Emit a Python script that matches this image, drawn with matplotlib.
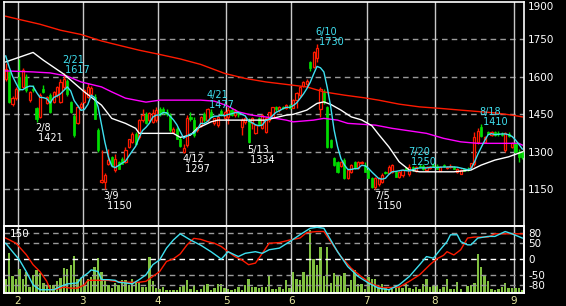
import matplotlib
matplotlib.use('Agg')
import matplotlib.pyplot as plt
import matplotlib.transforms as mtransforms
import numpy as np
import pandas as pd

plt.rcParams['axes.unicode_minus'] = False
plt.rcParams['font.family'] = ['DejaVu Sans']

# trading days, Tokyo 2011 (Jan 26 .. Sep 5)
holidays = ['2011-02-11', '2011-03-21', '2011-04-29', '2011-05-03',
            '2011-05-04', '2011-05-05', '2011-07-18']
dates = pd.bdate_range('2011-01-26', '2011-09-05')
dates = dates[~dates.isin(pd.to_datetime(holidays))]

opens = [1590, 1620, 1492, 1514, 1600, 1560, 1600, 1507, 1553, 1475,
         1440, 1553, 1494, 1527, 1500, 1527, 1500, 1560, 1585, 1500,
         1445, 1415, 1480, 1500, 1520, 1530, 1520, 1387, 1180, 1180,
         1253, 1280, 1227, 1260, 1273, 1260, 1320, 1340, 1373, 1360,
         1427, 1453, 1427, 1420, 1427, 1470, 1473, 1460, 1447, 1380,
         1393, 1353, 1300, 1327, 1440, 1427, 1387, 1407, 1453, 1427,
         1460, 1414, 1407, 1463, 1434, 1440, 1467, 1447, 1455, 1400,
         1420, 1427, 1414, 1374, 1434, 1394, 1380, 1427, 1440, 1480,
         1467, 1480, 1474, 1487, 1476, 1507, 1527, 1565, 1570, 1660,
         1640, 1674, 1470, 1540, 1480, 1347, 1275, 1259, 1245, 1267,
         1195, 1220, 1260, 1235, 1255, 1247, 1227, 1194, 1160, 1170,
         1180, 1218, 1214, 1220, 1220, 1200, 1207, 1235, 1210, 1240,
         1225, 1245, 1245, 1228, 1235, 1247, 1245, 1225, 1245, 1235,
         1238, 1240, 1220, 1213, 1230, 1232, 1240, 1250, 1340, 1400,
         1340, 1378, 1367, 1380, 1375, 1372, 1307, 1373, 1320, 1334,
         1300, 1300]
highs = [1654, 1625, 1522, 1560, 1670, 1635, 1610, 1545, 1567, 1480,
         1535, 1567, 1525, 1535, 1545, 1565, 1590, 1617, 1590, 1505,
         1450, 1488, 1500, 1552, 1575, 1565, 1530, 1395, 1307, 1215,
         1313, 1285, 1293, 1265, 1280, 1320, 1350, 1380, 1380, 1430,
         1473, 1460, 1460, 1470, 1480, 1478, 1480, 1470, 1455, 1400,
         1398, 1360, 1330, 1447, 1460, 1440, 1400, 1445, 1460, 1477,
         1470, 1435, 1447, 1470, 1465, 1480, 1475, 1470, 1462, 1434,
         1440, 1434, 1440, 1410, 1440, 1450, 1440, 1460, 1480, 1485,
         1485, 1485, 1492, 1490, 1510, 1540, 1565, 1585, 1590, 1665,
         1705, 1730, 1560, 1550, 1485, 1350, 1280, 1265, 1265, 1275,
         1230, 1250, 1265, 1265, 1262, 1260, 1230, 1200, 1200, 1200,
         1215, 1225, 1247, 1250, 1225, 1222, 1230, 1240, 1250, 1245,
         1245, 1250, 1250, 1245, 1245, 1255, 1250, 1242, 1250, 1245,
         1250, 1245, 1235, 1230, 1235, 1238, 1255, 1380, 1395, 1410,
         1365, 1385, 1385, 1385, 1385, 1380, 1380, 1380, 1340, 1340,
         1310, 1305]
lows = [1585, 1495, 1485, 1508, 1545, 1555, 1540, 1500, 1540, 1421,
        1435, 1535, 1490, 1455, 1495, 1520, 1495, 1550, 1525, 1455,
        1360, 1410, 1470, 1495, 1515, 1525, 1430, 1300, 1175, 1150,
        1247, 1240, 1220, 1230, 1250, 1255, 1315, 1335, 1327, 1350,
        1420, 1410, 1420, 1415, 1420, 1445, 1450, 1445, 1380, 1375,
        1350, 1320, 1297, 1320, 1425, 1360, 1380, 1400, 1420, 1420,
        1440, 1407, 1400, 1445, 1430, 1410, 1445, 1440, 1440, 1367,
        1410, 1334, 1393, 1370, 1407, 1390, 1375, 1420, 1435, 1465,
        1460, 1470, 1470, 1470, 1475, 1475, 1520, 1560, 1560, 1625,
        1635, 1660, 1440, 1490, 1315, 1315, 1245, 1215, 1240, 1190,
        1190, 1215, 1233, 1230, 1250, 1219, 1195, 1155, 1150, 1165,
        1175, 1212, 1210, 1215, 1200, 1195, 1200, 1228, 1205, 1225,
        1220, 1238, 1228, 1225, 1232, 1240, 1230, 1222, 1240, 1230,
        1235, 1230, 1215, 1210, 1222, 1225, 1235, 1245, 1330, 1360,
        1335, 1370, 1365, 1365, 1365, 1362, 1300, 1360, 1315, 1300,
        1260, 1270]
closes = [1630, 1500, 1514, 1552, 1550, 1627, 1547, 1540, 1548, 1430,
          1527, 1540, 1520, 1460, 1540, 1560, 1580, 1590, 1530, 1460,
          1368, 1480, 1492, 1547, 1560, 1555, 1433, 1307, 1188, 1207,
          1267, 1247, 1273, 1233, 1253, 1307, 1350, 1373, 1330, 1427,
          1447, 1414, 1454, 1454, 1467, 1450, 1460, 1453, 1387, 1393,
          1353, 1325, 1315, 1434, 1430, 1367, 1400, 1440, 1427, 1473,
          1440, 1434, 1440, 1447, 1460, 1467, 1447, 1463, 1450, 1427,
          1434, 1340, 1434, 1407, 1407, 1447, 1434, 1458, 1480, 1471,
          1480, 1474, 1487, 1476, 1507, 1534, 1560, 1578, 1583, 1635,
          1700, 1715, 1550, 1500, 1320, 1318, 1247, 1219, 1259, 1195,
          1227, 1247, 1235, 1260, 1260, 1221, 1197, 1160, 1195, 1194,
          1207, 1214, 1240, 1247, 1200, 1220, 1227, 1230, 1240, 1228,
          1240, 1240, 1230, 1240, 1240, 1242, 1233, 1238, 1243, 1240,
          1245, 1232, 1232, 1227, 1225, 1227, 1254, 1360, 1385, 1365,
          1360, 1373, 1380, 1367, 1370, 1368, 1374, 1363, 1334, 1300,
          1280, 1280]
volume = [33, 94, 39, 33, 56, 33, 50, 15, 42, 54,
          46, 23, 19, 19, 19, 27, 35, 58, 57, 66,
          87, 33, 35, 16, 33, 38, 60, 81, 50, 33,
          19, 11, 23, 19, 31, 31, 19, 32, 25, 25,
          15, 14, 85, 27, 11, 9, 13, 8, 8, 8,
          8, 15, 16, 31, 10, 19, 7, 10, 19, 21,
          8, 11, 21, 21, 11, 9, 8, 10, 15, 6,
          19, 33, 15, 15, 11, 15, 13, 40, 9, 9,
          15, 9, 31, 11, 49, 33, 31, 49, 40, 147,
          80, 66, 107, 40, 108, 23, 46, 40, 40, 47,
          11, 31, 54, 21, 21, 9, 38, 33, 33, 13,
          21, 13, 8, 9, 19, 13, 12, 21, 12, 9,
          13, 9, 21, 33, 13, 16, 19, 9, 13, 33,
          9, 9, 25, 9, 1, 16, 19, 24, 91, 60,
          42, 29, 9, 7, 9, 13, 24, 11, 12, 12,
          11, 8]

# closes before the window, needed for the 5-day average at the left edge
prior_closes = [1720, 1700, 1690, 1680]

# longer moving averages at a few trading-day indices
mid_ma_idx = [0, 8, 11, 17, 23, 28, 31, 35, 38, 39, 49, 51, 54, 56, 58, 60,
              62, 72, 76, 78, 82, 84, 88, 91, 93, 95, 98, 101, 104, 107, 109,
              112, 115, 118, 121, 131, 136, 139, 143, 147, 151]
mid_ma = [1660, 1698, 1667, 1611, 1540, 1487, 1434, 1414, 1394, 1374, 1374,
          1358, 1367, 1394, 1407, 1420, 1427, 1427, 1427, 1434, 1447, 1450,
          1467, 1494, 1500, 1490, 1467, 1440, 1428, 1405, 1370, 1320, 1260,
          1227, 1220, 1220, 1227, 1247, 1267, 1280, 1300]
long_ma_idx = [0, 8, 13, 18, 22, 28, 31, 35, 41, 45, 57, 61, 65, 68, 72, 78,
               82, 84, 90, 93, 97, 100, 108, 113, 118, 123, 128, 133, 138,
               150, 151]
long_ma = [1624, 1620, 1616, 1603, 1580, 1560, 1540, 1515, 1499, 1507, 1507,
           1503, 1483, 1460, 1447, 1436, 1427, 1420, 1427, 1434, 1427, 1414,
           1407, 1394, 1384, 1374, 1354, 1340, 1334, 1334, 1327]
trend_ma_idx = [0, 4, 10, 16, 22, 28, 33, 39, 45, 51, 57, 64, 70, 76, 82, 88,
                93, 99, 105, 109, 115, 121, 127, 133, 143, 148, 151]
trend_ma = [1843, 1830, 1811, 1787, 1770, 1744, 1727, 1707, 1690, 1672, 1650,
            1614, 1594, 1580, 1570, 1560, 1540, 1527, 1516, 1507, 1491, 1480,
            1474, 1467, 1456, 1447, 1440]

# oscillators in the lower panel
osc_fast_idx = [0, 2, 4, 6, 8, 10, 14, 16, 18, 21, 22, 24, 25, 27, 28, 30,
                32, 33, 35, 37, 39, 41, 43, 45, 47, 49, 51, 54, 57, 60, 62,
                63, 65, 68, 70, 73, 75, 77, 80, 83, 86, 89, 91, 93, 95, 97,
                100, 103, 106, 109, 112, 115, 118, 121, 123, 125, 127, 129,
                130, 132, 133, 135, 136, 138, 141, 143, 145, 146, 148, 151]
osc_fast = [48, 22, -3, -39, -80, -95, -95, -85, -77, -74, -59, -44, -34, -39,
            -64, -64, -66, -72, -74, -77, -64, -49, -18, -3, 33, 58, 77, 58,
            42, 22, 7, -1, 22, 7, 17, 22, 17, 28, 33, 53, 74, 94, 97, 94, 58,
            22, -24, -54, -74, -90, -95, -80, -54, -18, 7, 2, 28, 53, 74, 74,
            53, 43, 43, 64, 69, 69, 79, 84, 77, 64]
osc_slow_idx = [0, 3, 6, 8, 10, 12, 13, 15, 17, 19, 21, 23, 24, 30, 32, 35,
                39, 41, 43, 45, 47, 49, 51, 53, 55, 57, 59, 61, 63, 65, 67,
                69, 71, 73, 75, 77, 80, 83, 86, 88, 91, 93, 95, 98, 101, 104,
                107, 110, 115, 118, 121, 124, 126, 128, 129, 131, 133, 135,
                137, 141, 143, 148, 151]
osc_slow = [64, 48, 13, -18, -39, -69, -95, -93, -87, -90, -90, -80, -66, -66,
            -69, -72, -72, -69, -54, -39, -8, 0, 15, 43, 63, 60, 53, 48, 38,
            22, 7, -3, -18, -13, 17, 48, 50, 58, 64, 81, 84, 84, 53, 7, -29,
            -55, -77, -89, -87, -69, -49, -18, 0, 11, 22, 12, 28, 64, 67, 67,
            77, 77, 77]

peaks = [('2011-02-21', 1617), ('2011-04-21', 1477), ('2011-06-10', 1730),
         ('2011-07-20', 1250), ('2011-08-18', 1410)]
troughs = [('2011-02-08', 1421), ('2011-03-09', 1150), ('2011-04-12', 1297),
           ('2011-05-13', 1334), ('2011-07-05', 1150)]

price_ticks = [1150, 1300, 1450, 1600, 1750, 1900]
osc_ticks = [-80, -50, 0, 50, 80]

RED = '#ff1a00'
GREEN = '#00dd00'
CYAN = '#3fe0f0'
MAGENTA = '#ff00ff'
GRID = '#9a9a9a'
MONTH = '#c8c8c8'


def style(a):
  a.set_facecolor('black')
  for s in a.spines.values():
    s.set_color('white')
    s.set_linewidth(1.2)


x = np.arange(len(dates))
o = np.array(opens)
h = np.array(highs)
l = np.array(lows)
c = np.array(closes)
up = c >= o
month_pos = [i - 0.5 for i in range(1, len(dates))
             if dates[i].month != dates[i - 1].month]
month_lbl = [str(dates[i].month) for i in range(1, len(dates))
             if dates[i].month != dates[i - 1].month]

fig = plt.figure(figsize=(5.66, 3.06), dpi=100, facecolor='black')
ax = fig.add_axes([4 / 566, 1 - 226 / 306, 520 / 566, 224 / 306])
ax_vol = fig.add_axes([4 / 566, 1 - 293 / 306, 520 / 566, 67 / 306])
ax_osc = ax_vol.twinx()
for a in (ax, ax_vol, ax_osc):
  style(a)
  a.set_xlim(-0.5, len(dates) - 0.5)
ax.spines['bottom'].set_visible(False)
ax_osc.patch.set_visible(False)

# price panel
for lv in price_ticks[:-1]:
  ax.axhline(lv, color=GRID, lw=1, ls=(0, (4, 3)), zorder=1)
for mp in month_pos:
  ax.axvline(mp, color=MONTH, lw=1, zorder=1)
  ax_vol.axvline(mp, color=MONTH, lw=1, zorder=1)

ax.vlines(x, l, h, colors=np.where(up, RED, GREEN), lw=1, zorder=3)
body = np.maximum(np.abs(c - o), 3)
ax.bar(x[up], body[up], bottom=np.minimum(o, c)[up], width=0.62,
       facecolor='black', edgecolor=RED, lw=0.9, zorder=4)
ax.bar(x[~up], body[~up], bottom=np.minimum(o, c)[~up], width=0.62,
       facecolor=GREEN, edgecolor=GREEN, lw=0.5, zorder=4)

all_closes = pd.Series(prior_closes + closes)
short_ma = all_closes.rolling(5, min_periods=1).mean().values[len(prior_closes):]
ax.plot(trend_ma_idx, trend_ma, color=RED, lw=1, zorder=5)
ax.plot(long_ma_idx, long_ma, color=MAGENTA, lw=1, zorder=5)
ax.plot(mid_ma_idx, mid_ma, color='white', lw=1, zorder=5)
ax.plot(x, short_ma, color=CYAN, lw=1, zorder=6)

for d, v in peaks:
  i = dates.get_loc(pd.Timestamp(d))
  ts = pd.Timestamp(d)
  ax.annotate('%d/%d\n %d' % (ts.month, ts.day, v), (i, v),
              xytext=(-1, -2), textcoords='offset points', ha='left',
              va='bottom', color=CYAN, fontsize=7, linespacing=1.0,
              zorder=7)
for d, v in troughs:
  i = dates.get_loc(pd.Timestamp(d))
  ts = pd.Timestamp(d)
  ax.annotate('%d/%d\n %d' % (ts.month, ts.day, v), (i, v),
              xytext=(-1, -1), textcoords='offset points', ha='left',
              va='top', color='white', fontsize=7, linespacing=1.0,
              zorder=7)

ax.set_ylim(1003, 1900)
ax.yaxis.tick_right()
ax.set_yticks(price_ticks)
ax.set_xticks([])
ax.tick_params(axis='y', length=0, pad=3, labelsize=7.5, labelcolor='white')
# top label sits just inside the frame
top_lbl = ax.get_yticklabels()[-1]
top_lbl.set_transform(top_lbl.get_transform() + mtransforms.ScaledTranslation(
    0, -3 / 72, fig.dpi_scale_trans))

# volume + oscillator panel
ax_vol.bar(x, volume, width=0.7, color='#80c040', zorder=2)
ax_vol.set_ylim(0, 157)
ax_vol.set_yticks([])
ax_vol.set_xticks(month_pos)
ax_vol.set_xticklabels(month_lbl)
ax_vol.tick_params(axis='x', length=0, pad=2, labelsize=7.5,
                   labelcolor='#e8e8a0')

for lv in osc_ticks:
  ax_osc.axhline(lv, color='white' if lv == 0 else GRID, lw=1,
                 ls=(0, (4, 3)), zorder=1)
ax_osc.plot(osc_slow_idx, osc_slow, color=RED, lw=1, zorder=3)
ax_osc.plot(osc_fast_idx, osc_fast, color=CYAN, lw=1, zorder=3)
ax_osc.set_ylim(-105, 101)
ax_osc.set_yticks(osc_ticks)
ax_osc.tick_params(axis='y', length=0, pad=3, labelsize=7.5,
                   labelcolor='white')
ax_osc.text(0.012, 0.95, '150', transform=ax_osc.transAxes, va='top',
            ha='left', color='white', fontsize=7.5)

fig.savefig('out.png', dpi=100, facecolor='black')
